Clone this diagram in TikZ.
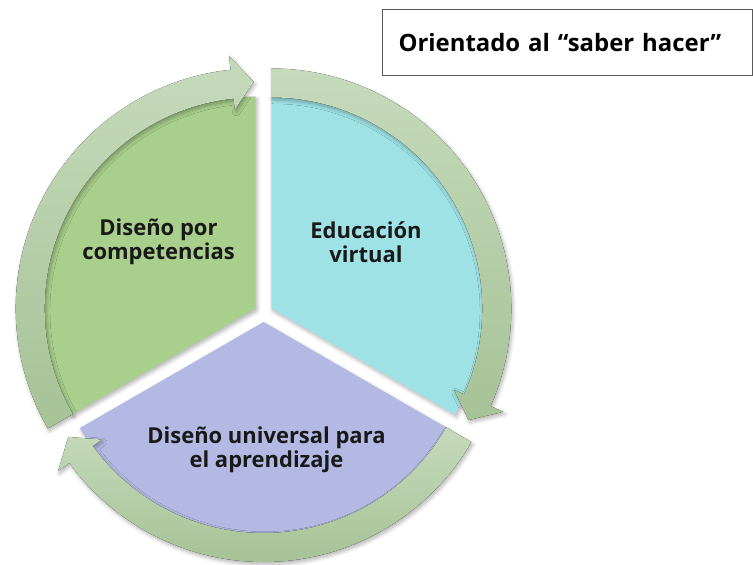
\documentclass[tikz,border=0pt]{standalone}
\usepackage{fontspec}
\setmainfont{Open Sans}
\usetikzlibrary{shadows.blur}
\usepackage{xcolor}

\definecolor{compgreen}{HTML}{A8CF8C}
\definecolor{virtcyan}{HTML}{9EE2E6}
\definecolor{dualilac}{HTML}{B4B9E4}
\definecolor{ringlight}{HTML}{C5DABB}
\definecolor{ringdark}{HTML}{A6C296}

% one curved arrow round a sector: #1 centre, #2 start angle
\newcommand{\cyclearrow}[2]{%
  \begin{scope}[shift={#1}]
    \pgfmathsetmacro{\bend}{#2-114}
    \pgfmathsetmacro{\tipang}{#2-119.5}
    \fill[ring] (#2:4.80) arc[start angle=#2, end angle=\bend, radius=4.80]
      -- (\bend:5.08) -- (\tipang:4.53) -- (\bend:4.0) -- (\bend:4.22)
      arc[start angle=\bend, end angle=#2, radius=4.22] -- cycle;
  \end{scope}}

\begin{document}
\begin{tikzpicture}[
    sector/.style={blur shadow={shadow xshift=0.03cm, shadow yshift=-0.05cm, shadow blur steps=6, shadow opacity=30}},
    ring/.style={top color=ringlight, bottom color=ringdark, blur shadow={shadow xshift=0.03cm, shadow yshift=-0.05cm, shadow blur steps=6, shadow opacity=30}},
    seglabel/.style={font=\bfseries\fontsize{12.5}{13.4}\selectfont, align=center, text=black!90}]
    \useasboundingbox (0,0) rectangle (15.06,11.3);

    % centres of the three pieces
    \coordinate (g) at (5.114,5.13);
    \coordinate (c) at (5.426,5.13);
    \coordinate (l) at (5.27,4.86);

    % pie pieces
    \fill[compgreen, sector] (g) -- ++(90:4.24) arc[start angle=90, end angle=210, radius=4.24] -- cycle;
    \fill[virtcyan, sector] (c) -- ++(90:4.24) arc[start angle=90, end angle=-30, radius=4.24] -- cycle;
    \fill[dualilac, sector] (l) -- ++(210:4.24) arc[start angle=210, end angle=330, radius=4.24] -- cycle;

    % arrows
    \cyclearrow{(g)}{210}
    \cyclearrow{(c)}{90}
    \cyclearrow{(l)}{-30}

    % texts
    \node[seglabel] (comp) at (3.17,6.46) {Diseño por\\competencias};
    \node[seglabel] (virt) at (7.32,6.46) {Educación\\virtual};
    \node[seglabel] (dua) at (5.33,2.3) {Diseño universal para\\el aprendizaje};

    \node[draw=black!65, line width=0.6pt, anchor=north west, minimum height=1.32cm,
      text width=6.76cm, inner xsep=0.32cm, align=left,
      font=\bfseries\fontsize{13.6}{15}\selectfont] (saber) at (7.64,11.12)
      {Orientado al “saber hacer”};
\end{tikzpicture}
\end{document}
